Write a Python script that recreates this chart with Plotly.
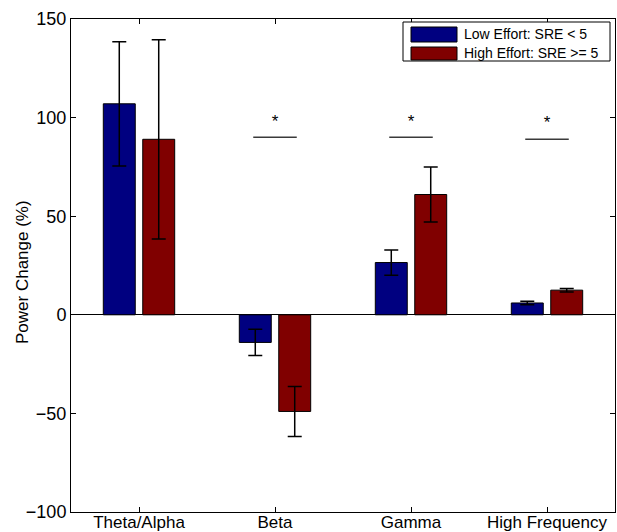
import plotly.graph_objects as go

categories = ["Theta/Alpha", "Beta", "Gamma", "High Frequency"]
series_names = ["Low Effort: SRE < 5", "High Effort: SRE >= 5"]
low_values = [107, -14, 26.5, 6.0]
low_errors = [31.5, 6.7, 6.4, 0.9]
high_values = [89, -49, 61, 12.5]
high_errors = [50.5, 12.7, 14, 0.9]
colors = ["#000080", "#800000"]
sig_groups = [2, 3, 4]
sig_line_y = [90, 90, 89]
sig_star_y = [97.5, 97.5, 97]
sig_half_width = 0.16
y_ticks = [-100, -50, 0, 50, 100, 150]

x_pos = list(range(1, len(categories) + 1))
font = "Liberation Sans, Arial, Helvetica, sans-serif"

fig = go.Figure()
for name, vals, errs, col in [(series_names[0], low_values, low_errors, colors[0]),
                               (series_names[1], high_values, high_errors, colors[1])]:
    fig.add_trace(go.Bar(
        x=x_pos, y=vals, name=name, marker=dict(color=col, line=dict(color="black", width=1)),
        error_y=dict(type="data", array=errs, visible=True, color="black", thickness=1.5, width=7),
        showlegend=False))

for g, ly in zip(sig_groups, sig_line_y):
    fig.add_trace(go.Scatter(x=[g - sig_half_width, g + sig_half_width], y=[ly, ly], mode="lines",
                             line=dict(color="#3a3a3a", width=1.5), showlegend=False, hoverinfo="skip"))
fig.add_trace(go.Scatter(x=sig_groups, y=sig_star_y, mode="text", text=["*"] * len(sig_groups),
                         textposition="middle center", textfont=dict(size=17, color="black", family=font),
                         showlegend=False, hoverinfo="skip"))

W, H = 617, 532
L, R, T, B = 71, 2, 19, 20
pw, ph = W - L - R, H - T - B

def px(xp):
    return (xp - L) / pw

def py(yp):
    return (H - B - yp) / ph

shapes = [dict(type="rect", xref="paper", yref="paper", x0=px(403), x1=px(610), y0=py(61), y1=py(22),
               line=dict(color="black", width=1), fillcolor="white", layer="above")]
annotations = [dict(xref="paper", yref="paper", x=px(22), y=py(272), text="Power Change (%)",
                    textangle=-90, showarrow=False, xanchor="center", yanchor="middle",
                    font=dict(size=17, color="black", family=font))]
rows = [(27, 42), (47, 60)]
for (y0, y1), col, name in zip(rows, colors, series_names):
    shapes.append(dict(type="rect", xref="paper", yref="paper", x0=px(411), x1=px(457), y0=py(y1), y1=py(y0),
                       line=dict(color="black", width=1), fillcolor=col, layer="above"))
    annotations.append(dict(xref="paper", yref="paper", x=px(462), y=py((y0 + y1) / 2), text=name,
                            showarrow=False, xanchor="left", yanchor="middle",
                            font=dict(size=14, color="black", family=font)))

fig.update_layout(
    width=W, height=H, margin=dict(l=L, r=R, t=T, b=B, autoexpand=False),
    paper_bgcolor="white", plot_bgcolor="white",
    barmode="group", bargap=0.42, bargroupgap=0.19,
    shapes=shapes, annotations=annotations,
    font=dict(family=font, color="black"),
    xaxis=dict(range=[0.5, 4.5], tickvals=x_pos, ticktext=categories, ticks="inside", ticklen=5,
               tickcolor="black", showline=True, linecolor="black", linewidth=1, mirror="ticks",
               showgrid=False, zeroline=False, tickfont=dict(size=17), automargin=False,
               ticklabelstandoff=-5),
    yaxis=dict(range=[-100, 150], tickvals=y_ticks, ticktext=[str(v).replace("-", "\u2212") for v in y_ticks],
               ticks="inside", ticklen=5, tickcolor="black", showline=True, linecolor="black", linewidth=1,
               mirror="ticks", showgrid=False, zeroline=True, zerolinecolor="black", zerolinewidth=1,
               tickfont=dict(size=18), automargin=False),
)
fig.write_html("out.html")
